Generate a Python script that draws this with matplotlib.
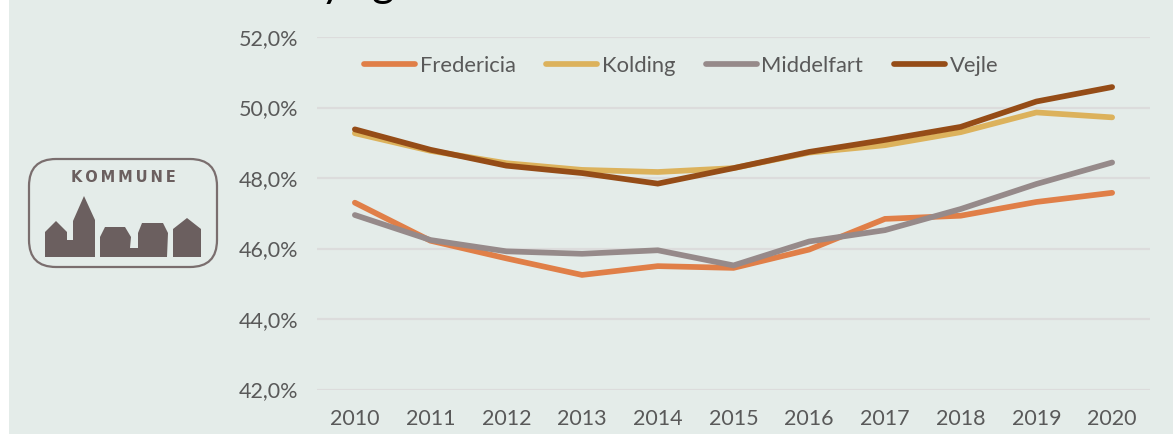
import matplotlib
matplotlib.use("Agg")
from matplotlib import pyplot as plt
from matplotlib.patches import FancyBboxPatch, Polygon, Rectangle
from matplotlib.transforms import IdentityTransform

years = [2010, 2011, 2012, 2013, 2014, 2015, 2016, 2017, 2018, 2019, 2020]
fredericia = [47.3, 46.22, 45.72, 45.25, 45.5, 45.45, 45.97, 46.84, 46.93, 47.32, 47.58]
kolding = [49.27, 48.77, 48.42, 48.23, 48.17, 48.28, 48.72, 48.93, 49.3, 49.86, 49.72]
middelfart = [46.95, 46.24, 45.92, 45.85, 45.95, 45.52, 46.2, 46.52, 47.12, 47.83, 48.44]
vejle = [49.38, 48.8, 48.35, 48.14, 47.84, 48.28, 48.74, 49.08, 49.45, 50.17, 50.58]
y_ticks = [42, 44, 46, 48, 50, 52]

W, H = 1173, 434
BG = '#e4ece9'
LOGO = '#6b5f5f'
plt.rcParams['font.family'] = ['Lato', 'DejaVu Sans']


def px(x, y):
    # reference pixels, y from the top
    return (x, H - y)


fig = plt.figure(figsize=(W / 100, H / 100), dpi=100, facecolor='white')
pixels = IdentityTransform()
fig.add_artist(Rectangle(px(9, H), W - 9, H, transform=pixels, facecolor=BG, edgecolor='none', zorder=-5))

# plot area
ax = fig.add_axes([317 / W, 1 - 389.5 / H, (1150 - 317) / W, (389.5 - 37) / H])
ax.patch.set_alpha(0)
ax.set_xlim(2009.5, 2020.5)
ax.set_ylim(42, 52)
for s in ax.spines.values():
    s.set_visible(False)
ax.set_yticks(y_ticks)
ax.set_yticklabels([f'{t},0%' for t in y_ticks])
ax.set_xticks(years)
ax.tick_params(length=0, labelsize=15.5, labelcolor='#595959')
ax.tick_params(axis='y', pad=13.5)
ax.tick_params(axis='x', pad=14)
ax.grid(axis='y', color='#dcdcdc', linewidth=1.6)
ax.set_axisbelow(True)

for values, color, name in [(fredericia, '#e07f48', 'Fredericia'),
                            (kolding, '#dcb25c', 'Kolding'),
                            (middelfart, '#968a8a', 'Middelfart'),
                            (vejle, '#954c17', 'Vejle')]:
    ax.plot(years, values, color=color, lw=4.1, label=name, solid_capstyle='round', solid_joinstyle='miter')

ax.legend(loc='center left', bbox_to_anchor=(0.056, 0.918), ncol=4, frameon=False, fontsize=15.8,
          labelcolor='#595959', handlelength=2.33, handletextpad=0.22, columnspacing=1.38, borderpad=0, borderaxespad=0)

# title, only the descenders show at the top edge
fig.text(*px(321, -3), 'y', transform=pixels, fontsize=31, color='black', va='baseline', clip_on=False)
fig.text(*px(372, -3), 'g', transform=pixels, fontsize=31, color='black', va='baseline', clip_on=False)

# logo
fig.add_artist(FancyBboxPatch(px(29, 267), 188, 108, boxstyle='round,pad=0,rounding_size=27',
                              transform=pixels, facecolor='none', edgecolor='#7a6e6e', linewidth=1.6))
fig.text(*px(123, 177), '\u2009'.join('KOMMUNE'), transform=pixels, fontsize=10.5, fontweight='bold', color=LOGO,
         ha='center', va='center', family='DejaVu Sans')
skyline = [(45, 257), (45, 232), (56, 221), (67, 232), (67, 240), (73, 240), (73, 221), (84, 196), (95, 220), (95, 257)]
houses = [
    [(100, 257), (100, 237), (105, 227), (125, 227), (131, 237), (130, 248), (138, 248), (138, 233), (142, 223), (163, 223),
     (168, 233), (167, 257)],
    [(173, 257), (173, 229), (187, 218), (201, 229), (201, 257)],
]
for pts in [skyline] + houses:
    fig.add_artist(Polygon([px(*p) for p in pts], closed=True, transform=pixels, facecolor=LOGO, edgecolor='none'))

fig.savefig('out.png', dpi=100, facecolor='white')
